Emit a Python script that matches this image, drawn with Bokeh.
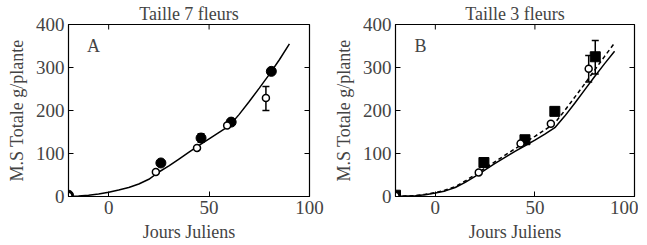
import math
from bokeh.plotting import figure
from bokeh.models import Range1d, Whisker, ColumnDataSource, Label, FixedTicker, Title
from bokeh.layouts import row
from bokeh.embed import file_html
from bokeh.resources import INLINE

# ---- data ----
x_ticks = [0, 50, 100]
y_ticks = [0, 100, 200, 300, 400]

# Panel A (Taille 7 fleurs)
a_filled_x = [-20, 26, 46, 61, 81]
a_filled_y = [3, 78, 136, 173, 291]
a_open_x = [-20, 23.5, 44, 59, 78.3]
a_open_y = [2, 57, 113, 165, 229]
a_err_x = [46, 78.3]
a_err_lo = [126, 200]
a_err_hi = [146, 256]
a_curve_x = [-20, -15, -10, -5, 0, 5, 10, 15, 20, 25, 30, 35, 40, 45, 50, 55, 60, 65, 70, 75, 80, 85, 90]
a_curve_y = [0, 1, 3, 6, 10, 15, 21, 29, 40, 57, 71, 87, 103, 119, 134, 149, 164, 191, 221, 252, 284, 318, 355]

# Panel B (Taille 3 fleurs)
b_filled_x = [-20, 24.4, 45, 60, 80.3]
b_filled_y = [3, 79, 132, 198, 325]
b_open_x = [-20, 21.8, 42.8, 58, 77]
b_open_y = [2, 56, 123, 169, 297]
b_err_x = [80.3, 77]
b_err_lo = [285, 266]
b_err_hi = [363, 328]
b_solid_x = [-20, -15, -10, -5, 0, 5, 10, 15, 20, 25, 30, 35, 40, 45, 50, 55, 60, 65, 70, 75, 80, 85, 90]
b_solid_y = [0, 1, 2, 4, 8, 13, 21, 33, 47, 62, 77, 91, 105, 118, 131, 145, 160, 187, 217, 248, 279, 309, 338]
b_dash_x = [-20, -15, -10, -5, 0, 5, 10, 15, 20, 25, 30, 35, 40, 45, 50, 55, 60, 65, 70, 75, 80, 85, 90]
b_dash_y = [0, 1, 2, 5, 9, 15, 23, 36, 51, 66, 81, 96, 111, 126, 140, 155, 171, 200, 231, 262, 294, 326, 357]

FONT = "Liberation Serif"
X_MIN, X_MAX, Y_MIN, Y_MAX = -20, 100, 0, 400


def make_panel(title, letter, frame_w, border_left, border_right):
    p = figure(frame_width=frame_w, frame_height=172, output_backend="svg", toolbar_location=None,
               x_range=Range1d(X_MIN, X_MAX), y_range=Range1d(Y_MIN, Y_MAX),
               min_border_left=border_left, min_border_right=border_right,
               min_border_top=0, min_border_bottom=0)
    p.title = Title(text=title, align="center", text_font=FONT, text_font_size="18px",
                    text_font_style="normal", standoff=2, offset=0)
    p.grid.visible = False
    p.outline_line_color = "black"
    p.outline_line_width = 1.2
    p.background_fill_color = "white"
    p.border_fill_color = "white"
    for ax in (p.xaxis[0], p.yaxis[0]):
        ax.major_tick_in = 5
        ax.major_tick_out = 0
        ax.minor_tick_line_color = None
        ax.major_label_text_font = FONT
        ax.major_label_text_font_size = "19px"
        ax.axis_label_text_font = FONT
        ax.axis_label_text_font_size = "18px"
        ax.axis_label_text_font_style = "normal"
        ax.axis_line_color = "black"
        ax.major_label_standoff = 4
    p.xaxis[0].ticker = FixedTicker(ticks=x_ticks)
    p.yaxis[0].ticker = FixedTicker(ticks=y_ticks)
    p.xaxis[0].axis_label = "Jours Juliens"
    p.yaxis[0].axis_label = "M.S Totale g/plante"
    p.xaxis[0].axis_label_standoff = 5
    p.yaxis[0].axis_label_standoff = 6
    p.yaxis[0].major_label_orientation = "horizontal"
    # mirror tick marks on top and right edges (clipped to frame -> inward ticks)
    p.scatter(x_ticks, [Y_MAX] * len(x_ticks), marker="dash", angle=math.pi / 2, size=10,
              line_color="black", line_width=1)
    p.scatter([X_MAX] * len(y_ticks), y_ticks, marker="dash", size=10,
              line_color="black", line_width=1)
    p.add_layout(Label(x=-7.5, y=349, text=letter, text_font=FONT, text_font_size="18px",
                       text_align="center", text_baseline="middle"))
    return p


def whisker(src):
    w = Whisker(source=src, base="x", lower="lo", upper="hi", line_width=1.5)
    w.upper_head.size = 7
    w.lower_head.size = 7
    w.upper_head.line_width = 1.5
    w.lower_head.line_width = 1.5
    return w


pa = make_panel("Taille 7 fleurs", "A", 241, 68, 18)
pa.line(a_curve_x, a_curve_y, line_color="black", line_width=1.5)
pa.add_layout(whisker(ColumnDataSource(dict(x=a_err_x, lo=a_err_lo, hi=a_err_hi))))
pa.scatter(a_filled_x, a_filled_y, marker="circle", size=10, fill_color="black", line_color="black")
pa.scatter(a_open_x, a_open_y, marker="circle", size=7, fill_color="white", line_color="black", line_width=1.5)

pb = make_panel("Taille 3 fleurs", "B", 239, 68, 4)
pb.line(b_solid_x, b_solid_y, line_color="black", line_width=1.5)
pb.line(b_dash_x, b_dash_y, line_color="black", line_width=1.5, line_dash="4 3")
pb.add_layout(whisker(ColumnDataSource(dict(x=b_err_x, lo=b_err_lo, hi=b_err_hi))))
pb.scatter(b_filled_x, b_filled_y, marker="square", size=10, fill_color="black", line_color="black")
pb.scatter(b_open_x, b_open_y, marker="circle", size=7, fill_color="white", line_color="black", line_width=1.5)

layout = row(pa, pb)
open("out.html", "w").write(file_html(layout, INLINE))
